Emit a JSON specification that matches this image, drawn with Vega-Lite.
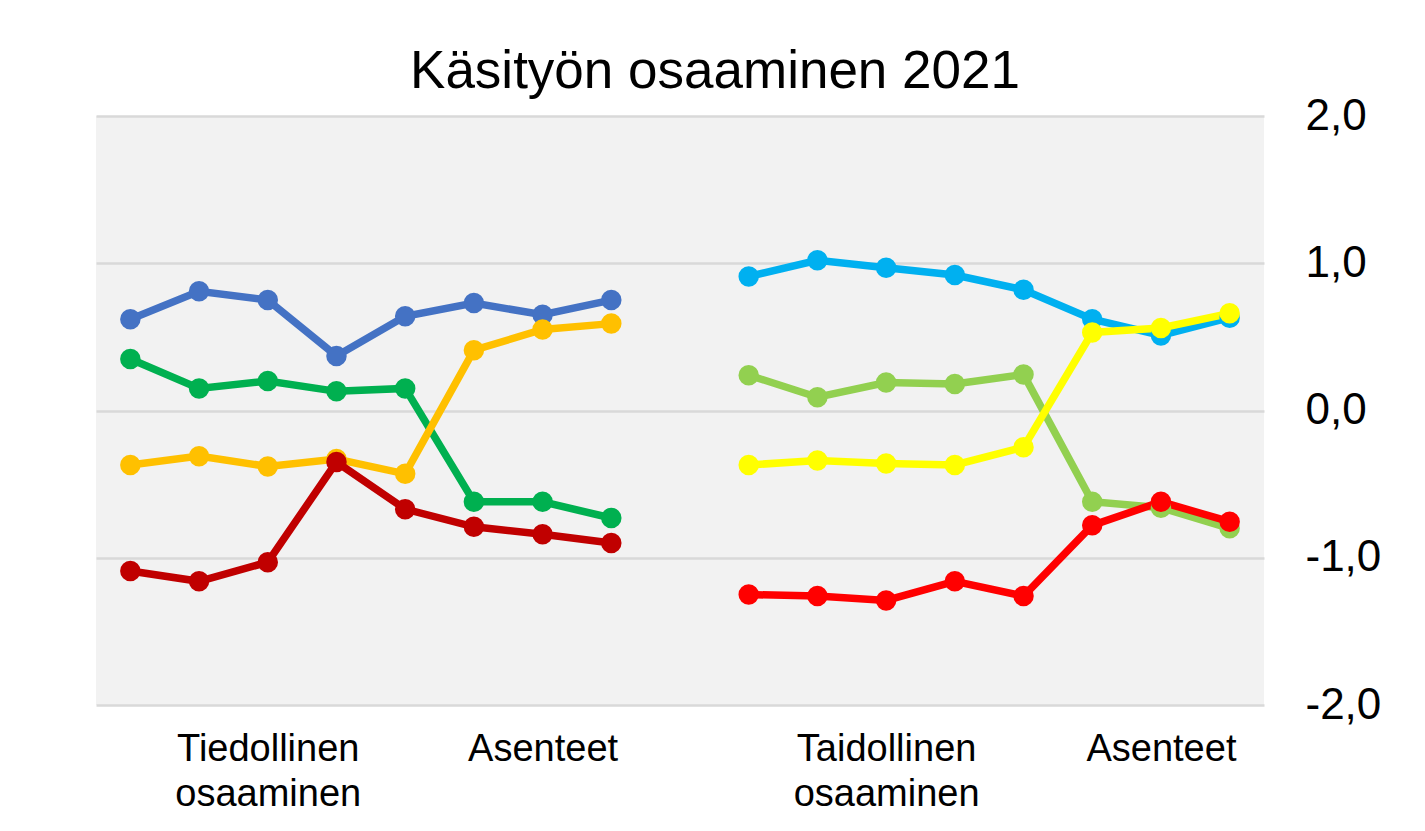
{
  "$schema": "https://vega.github.io/schema/vega-lite/v6.json",
  "autosize": {"type": "none"},
  "width": 1168,
  "height": 589,
  "padding": {"left": 96, "top": 116, "right": 161, "bottom": 126},
  "background": "white",
  "title": {
    "text": "Käsityön osaaminen 2021",
    "fontSize": 53,
    "fontWeight": "normal",
    "font": "Liberation Sans",
    "color": "#000000",
    "anchor": "middle",
    "dx": 35,
    "offset": -5
  },
  "config": {
    "font": "Liberation Sans",
    "view": {"stroke": null, "fill": "#f2f2f2"}
  },
  "data": {
    "values": [
      {"series": "s1", "item": "T1", "value": 0.62},
      {"series": "s1", "item": "T2", "value": 0.81},
      {"series": "s1", "item": "T3", "value": 0.75},
      {"series": "s1", "item": "T4", "value": 0.37},
      {"series": "s1", "item": "T5", "value": 0.64},
      {"series": "s1", "item": "A1", "value": 0.73},
      {"series": "s1", "item": "A2", "value": 0.65},
      {"series": "s1", "item": "A3", "value": 0.75},
      {"series": "s2", "item": "T1", "value": 0.35},
      {"series": "s2", "item": "T2", "value": 0.15},
      {"series": "s2", "item": "T3", "value": 0.20},
      {"series": "s2", "item": "T4", "value": 0.13},
      {"series": "s2", "item": "T5", "value": 0.15},
      {"series": "s2", "item": "A1", "value": -0.62},
      {"series": "s2", "item": "A2", "value": -0.62},
      {"series": "s2", "item": "A3", "value": -0.73},
      {"series": "s3", "item": "T1", "value": -0.37},
      {"series": "s3", "item": "T2", "value": -0.31},
      {"series": "s3", "item": "T3", "value": -0.38},
      {"series": "s3", "item": "T4", "value": -0.33},
      {"series": "s3", "item": "T5", "value": -0.43},
      {"series": "s3", "item": "A1", "value": 0.41},
      {"series": "s3", "item": "A2", "value": 0.55},
      {"series": "s3", "item": "A3", "value": 0.59},
      {"series": "s4", "item": "T1", "value": -1.09},
      {"series": "s4", "item": "T2", "value": -1.16},
      {"series": "s4", "item": "T3", "value": -1.03},
      {"series": "s4", "item": "T4", "value": -0.35},
      {"series": "s4", "item": "T5", "value": -0.67},
      {"series": "s4", "item": "A1", "value": -0.79},
      {"series": "s4", "item": "A2", "value": -0.84},
      {"series": "s4", "item": "A3", "value": -0.90},
      {"series": "s5", "item": "K1", "value": 0.91},
      {"series": "s5", "item": "K2", "value": 1.02},
      {"series": "s5", "item": "K3", "value": 0.97},
      {"series": "s5", "item": "K4", "value": 0.92},
      {"series": "s5", "item": "K5", "value": 0.82},
      {"series": "s5", "item": "B1", "value": 0.62},
      {"series": "s5", "item": "B2", "value": 0.51},
      {"series": "s5", "item": "B3", "value": 0.63},
      {"series": "s6", "item": "K1", "value": 0.24},
      {"series": "s6", "item": "K2", "value": 0.09},
      {"series": "s6", "item": "K3", "value": 0.19},
      {"series": "s6", "item": "K4", "value": 0.18},
      {"series": "s6", "item": "K5", "value": 0.245},
      {"series": "s6", "item": "B1", "value": -0.62},
      {"series": "s6", "item": "B2", "value": -0.66},
      {"series": "s6", "item": "B3", "value": -0.80},
      {"series": "s7", "item": "K1", "value": -0.37},
      {"series": "s7", "item": "K2", "value": -0.34},
      {"series": "s7", "item": "K3", "value": -0.36},
      {"series": "s7", "item": "K4", "value": -0.37},
      {"series": "s7", "item": "K5", "value": -0.25},
      {"series": "s7", "item": "B1", "value": 0.53},
      {"series": "s7", "item": "B2", "value": 0.56},
      {"series": "s7", "item": "B3", "value": 0.66},
      {"series": "s8", "item": "K1", "value": -1.25},
      {"series": "s8", "item": "K2", "value": -1.26},
      {"series": "s8", "item": "K3", "value": -1.29},
      {"series": "s8", "item": "K4", "value": -1.16},
      {"series": "s8", "item": "K5", "value": -1.26},
      {"series": "s8", "item": "B1", "value": -0.78},
      {"series": "s8", "item": "B2", "value": -0.62},
      {"series": "s8", "item": "B3", "value": -0.755}
    ]
  },
  "mark": {
    "type": "line",
    "strokeWidth": 7.5,
    "point": {"filled": true, "size": 420, "opacity": 1}
  },
  "encoding": {
    "x": {
      "field": "item",
      "type": "ordinal",
      "sort": null,
      "scale": {
        "type": "point",
        "padding": 0.5,
        "domain": ["T1", "T2", "T3", "T4", "T5", "A1", "A2", "A3", "gap", "K1", "K2", "K3", "K4", "K5", "B1", "B2", "B3"]
      },
      "axis": {
        "title": null,
        "domain": false,
        "ticks": false,
        "grid": false,
        "labelAngle": 0,
        "labelFontSize": 38,
        "labelColor": "#000000",
        "labelPadding": 25,
        "labelLineHeight": 45,
        "labelLimit": 0,
        "labelAlign": "center",
        "labelBaseline": "top",
        "labelOverlap": false,
        "labelExpr": "datum.value == 'T3' ? ['Tiedollinen', 'osaaminen'] : datum.value == 'A2' ? 'Asenteet' : datum.value == 'K3' ? ['Taidollinen', 'osaaminen'] : datum.value == 'B2' ? 'Asenteet' : ''"
      }
    },
    "y": {
      "field": "value",
      "type": "quantitative",
      "scale": {"domain": [-2, 2], "nice": false, "zero": false},
      "axis": {
        "orient": "right",
        "title": null,
        "domain": false,
        "ticks": false,
        "values": [-2, -1, 0, 1, 2],
        "grid": true,
        "gridColor": "#d9d9d9",
        "gridWidth": 2.5,
        "labelFontSize": 44,
        "labelColor": "#000000",
        "labelPadding": 41,
        "labelAlign": "left",
        "labelBaseline": "middle",
        "labelExpr": "(datum.value < 0 ? '-' : '') + replace(format(abs(datum.value), '.1f'), '.', ',')"
      }
    },
    "color": {
      "field": "series",
      "type": "nominal",
      "legend": null,
      "scale": {
        "domain": ["s1", "s2", "s3", "s4", "s5", "s6", "s7", "s8"],
        "range": ["#4472C4", "#00B050", "#FFC000", "#C00000", "#00B0F0", "#92D050", "#FFFF00", "#FF0000"]
      }
    }
  }
}
